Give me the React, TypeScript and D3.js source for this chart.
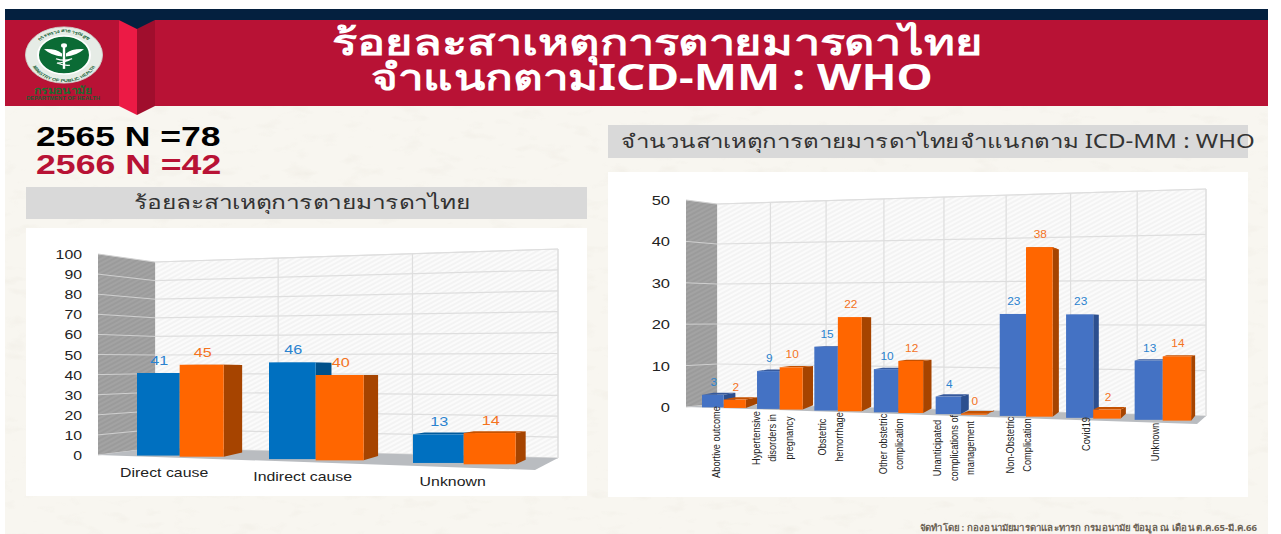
import React from 'react'
import * as d3 from 'd3'

// left chart: percent by cause group
const causeCats = ['Direct cause', 'Indirect cause', 'Unknown']
const causePct2565 = [41, 46, 13]
const causePct2566 = [45, 40, 14]
const pctTicks = [0, 10, 20, 30, 40, 50, 60, 70, 80, 90, 100]

// right chart: counts by ICD-MM group
const icdCats = [
  ['Abortive outcome'],
  ['Hypertensive', 'disorders in', 'pregnancy'],
  ['Obstetric', 'hemorrhage'],
  ['Other obstetric', 'complication'],
  ['Unanticipated', 'complications of', 'management'],
  ['Non-Obstetric', 'Complication'],
  ['Covid19'],
  ['Unknown'],
]
const icdCount2565 = [3, 9, 15, 10, 4, 23, 23, 13]
const icdCount2566 = [2, 10, 22, 12, 0, 38, 2, 14]
const countTicks = [0, 10, 20, 30, 40, 50]

const FONT = '"Liberation Sans", Arial, sans-serif'
const THAI = '"Noto Sans", "Liberation Sans", sans-serif'

type Cfg = {
  cats: string[][]
  a: number[]
  b: number[]
  ticks: number[]
  // perspective x: pow scale over shifted band index
  k: number
  x0: number
  x1: number
  barShare: number
  base: [number, number, number, number] // x0,y0,x1,y1 front floor line
  unit: [number, number]
  wall: { fx: number; bx: number; fy0: number; fyTop: number }
  back: { x: number; y0: number; u: number }[]
  floorFront: [number, number]
  depth: [number, number]
  blue: string
  blueDark: string
  blueTop: string
  tickFont: number
  tickRight: number
  hatch: string
  labelSize: number
  labelSx: number
  labelGap: number
}

function Stretch({ x, y, sx = 1, anchor = 'middle', size, fill, weight, family = FONT, children }: any) {
  return (
    <text transform={`translate(${x},${y}) scale(${sx},1)`} textAnchor={anchor} fontSize={size} fill={fill}
      fontWeight={weight} fontFamily={family}>{children}</text>
  )
}

function Chart3D({ cfg, renderCatLabel }: { cfg: Cfg; renderCatLabel: (i: number, xf: (t: number) => number, base: (x: number) => number) => React.ReactNode }) {
  const n = cfg.cats.length
  const x = d3.scalePow().exponent(2).domain([cfg.k, cfg.k + n]).range([cfg.x0, cfg.x1])
  const xf = (t: number) => x(cfg.k + t)
  const [bx0, by0, bx1, by1] = cfg.base
  const base = d3.scaleLinear().domain([bx0, bx1]).range([by0, by1])
  const unit = d3.scaleLinear().domain([bx0, bx1]).range(cfg.unit)
  const depth = d3.scaleLinear().domain([bx0, bx1]).range(cfg.depth)
  const [bl, br] = cfg.back
  const backX = d3.scaleLinear().domain([cfg.x0, cfg.x1]).range([bl.x, br.x])
  const backY = (v: number, px: number) => {
    const t = (px - bl.x) / (br.x - bl.x)
    return bl.y0 + t * (br.y0 - bl.y0) - v * (bl.u + t * (br.u - bl.u))
  }
  const vMax = cfg.ticks[cfg.ticks.length - 1]
  const wallY = d3.scaleLinear().domain([0, vMax]).range([cfg.wall.fy0, cfg.wall.fyTop])
  const eye = (bl.y0 + cfg.wall.fyTop) / 2 + 20

  const poly = (pts: number[][]) => pts.map(p => p.join(',')).join(' ')

  const bar = (i: number, s: number, v: number, fill: string, side: string, top: string) => {
    const xa = xf(i + s * cfg.barShare)
    const xb = xf(i + (s + 1) * cfg.barShare)
    const bot = base((xa + xb) / 2)
    const mx = (xa + xb) / 2
    const h = Math.max(v, 0.25) * unit(mx)
    const y = bot - h
    const d = depth(xb)
    const farTop = y + (eye - y) * 0.03
    const farBot = bot + (eye - bot) * 0.05
    return (
      <g key={`${i}-${s}`}>
        <polygon points={poly([[xb, y], [xb + d, farTop], [xb + d, farBot], [xb, bot]])} fill={side} />
        <polygon points={poly([[xa, y], [xa + d, farTop], [xb + d, farTop], [xb, y]])} fill={top} />
        <rect x={xa} y={y} width={xb - xa} height={h} fill={fill} />
      </g>
    )
  }
  const valueLabel = (i: number, s: number, v: number, fill: string) => {
    const xa = xf(i + s * cfg.barShare)
    const xb = xf(i + (s + 1) * cfg.barShare)
    const mx = (xa + xb) / 2
    const y = base(mx) - Math.max(v, 0.25) * unit(mx) - cfg.labelGap
    return <Stretch key={`l${i}-${s}`} x={mx + 1} y={y} sx={cfg.labelSx} size={cfg.labelSize} fill={fill}>{v}</Stretch>
  }

  const fr = cfg.floorFront
  return (
    <g>
      {/* back wall */}
      <polygon points={poly([[bl.x, backY(vMax, bl.x)], [br.x, backY(vMax, br.x)], [br.x, backY(0, br.x)], [bl.x, backY(0, bl.x)]])}
        fill={`url(#${cfg.hatch}Back)`} stroke="#e2e2e2" />
      {cfg.ticks.map(t => (
        <line key={t} x1={bl.x} x2={br.x} y1={backY(t, bl.x)} y2={backY(t, br.x)} stroke="#dedede" strokeWidth={1.2} />
      ))}
      {d3.range(1, n + 1).map(i => {
        const px = backX(xf(i))
        return <line key={i} x1={px} x2={px} y1={backY(vMax, px)} y2={backY(0, px)} stroke="#dedede" strokeWidth={1.2} />
      })}
      {/* side wall */}
      <polygon points={poly([[cfg.wall.fx, cfg.wall.fyTop], [bl.x, backY(vMax, bl.x)], [bl.x, backY(0, bl.x)], [cfg.wall.fx, cfg.wall.fy0]])}
        fill={`url(#${cfg.hatch}Wall)`} />
      {cfg.ticks.map(t => (
        <line key={t} x1={cfg.wall.fx} x2={bl.x} y1={wallY(t)} y2={backY(t, bl.x)} stroke="#d0d0d0" strokeWidth={1} />
      ))}
      {/* floor */}
      <polygon points={poly([[cfg.wall.fx, cfg.wall.fy0], [bl.x, backY(0, bl.x)], [br.x, backY(0, br.x)], fr])} fill="#b9bcc0" />

      {cfg.ticks.map(t => (
        <Stretch key={t} x={cfg.tickRight} y={wallY(t) + 5} sx={1.32} anchor="end" size={cfg.tickFont} fill="#222">{t}</Stretch>
      ))}

      {cfg.a.map((v, i) => bar(i, 0, v, cfg.blue, cfg.blueDark, cfg.blueTop))}
      {cfg.b.map((v, i) => bar(i, 1, v, '#ff6600', '#a64400', '#c45100'))}
      {cfg.a.map((v, i) => valueLabel(i, 0, v, '#2b83cf'))}
      {cfg.b.map((v, i) => valueLabel(i, 1, v, '#f4731e'))}
      {cfg.cats.map((_, i) => renderCatLabel(i, xf, base))}
    </g>
  )
}

const leftCfg: Cfg = {
  cats: causeCats.map(c => [c]),
  a: causePct2565,
  b: causePct2566,
  ticks: pctTicks,
  k: 10.5,
  x0: 137,
  x1: 569,
  barShare: 1 / 3,
  base: [137, 455, 516, 465],
  unit: [2.0, 2.25],
  wall: { fx: 98, bx: 155, fy0: 455, fyTop: 254 },
  back: [{ x: 155, y0: 448, u: 1.86 }, { x: 558, y0: 458, u: 2.09 }],
  floorFront: [535, 470],
  depth: [21, 10],
  blue: '#0070c0',
  blueDark: '#00508a',
  blueTop: '#005a9c',
  tickFont: 12,
  tickRight: 82,
  hatch: 'l',
  labelSize: 12,
  labelSx: 1.35,
  labelGap: 8,
}

const rightCfg: Cfg = {
  cats: icdCats,
  a: icdCount2565,
  b: icdCount2566,
  ticks: countTicks,
  k: 23.85,
  x0: 702,
  x1: 1205.5,
  barShare: 0.4,
  base: [702, 407, 1190, 421],
  unit: [4.14, 4.6],
  wall: { fx: 686, bx: 717, fy0: 407, fyTop: 200 },
  back: [{ x: 717, y0: 404, u: 4 }, { x: 1206, y0: 416, u: 4.54 }],
  floorFront: [1197, 424],
  depth: [12, 4],
  blue: '#4472c4',
  blueDark: '#2c4f8f',
  blueTop: '#36599c',
  tickFont: 12.5,
  tickRight: 670,
  hatch: 'l',
  labelSize: 11,
  labelSx: 1.08,
  labelGap: 9,
}

// vertical centre of each rotated category label
const icdLabelMid = [442, 438, 437, 444, 448, 445, 434, 442]

function Logo() {
  return (
    <g>
      <g transform="translate(64,55) scale(1,0.73) translate(-64,-55)">
        <circle cx={64} cy={55} r={38.5} fill="#e6ece6" stroke="#cfd8cf" />
        <circle cx={64} cy={55} r={26} fill="#0b6b35" stroke="#fff" strokeWidth={2} />
        <path id="ringTop" d="M 33 55 A 31 31 0 0 1 95 55" fill="none" />
        <path id="ringBot" d="M 30 58 A 34 34 0 0 0 98 58" fill="none" />
        <text fontSize={5.5} fontFamily={FONT} fontWeight={700} fill="#22663c">
          <textPath href="#ringBot" startOffset="50%" textAnchor="middle">MINISTRY OF PUBLIC HEALTH</textPath>
        </text>
        <text fontSize={6} fontFamily={THAI} fontWeight={700} fill="#22663c">
          <textPath href="#ringTop" startOffset="50%" textAnchor="middle">กระทรวงสาธารณสุข</textPath>
        </text>
        <path d="M44 47 Q56 46 62 53 L62 57 Q52 56 44 47 Z M84 47 Q72 46 66 53 L66 57 Q76 56 84 47 Z" fill="#fff" />
        <rect x={62.8} y={41} width={2.4} height={33} fill="#fff" />
        <circle cx={64} cy={42} r={3} fill="#fff" />
        <path d="M56 60 Q64 64 72 60 M72 60 Q64 66 57 66 M57 66 Q64 70 70 69" fill="none" stroke="#fff" strokeWidth={1.6} />
      </g>
      <Stretch x={63} y={94} sx={1.15} size={10.5} fill="#1d6a2f" weight={700} family={THAI}>กรมอนามัย</Stretch>
      <Stretch x={63} y={99.5} sx={1.2} size={4.8} fill="#1d5a2f" weight={700}>DEPARTMENT OF HEALTH</Stretch>
    </g>
  )
}

export default function App() {
  return (
    <svg width={1281} height={534} style={{ position: 'absolute', left: 0, top: 0, background: '#fff' }}>
      <defs>
        <pattern id="lBack" width={4} height={4} patternUnits="userSpaceOnUse" patternTransform="rotate(-28)">
          <rect width={4} height={4} fill="#fbfbfb" />
          <line x1={0} x2={4} y1={2} y2={2} stroke="#ececec" strokeWidth={1} />
        </pattern>
        <pattern id="lWall" width={4} height={4} patternUnits="userSpaceOnUse" patternTransform="rotate(-28)">
          <rect width={4} height={4} fill="#a3a3a3" />
          <line x1={0} x2={4} y1={2} y2={2} stroke="#939393" strokeWidth={1} />
        </pattern>
        <filter id="paper" x="0" y="0" width="100%" height="100%">
          <feTurbulence type="fractalNoise" baseFrequency="0.035 0.09" numOctaves={3} seed={4} />
          <feColorMatrix values="0 0 0 0 0.72  0 0 0 0 0.68  0 0 0 0 0.6  0 0 0 1.1 -0.62" />
        </filter>
      </defs>

      {/* page */}
      <rect x={5} y={9} width={1263} height={525} fill="#f8f6f0" />
      <rect x={5} y={106} width={1263} height={428} filter="url(#paper)" opacity={0.5} />

      {/* banner */}
      <rect x={5} y={9} width={1263} height={11} fill="#04203f" />
      <rect x={5} y={20} width={1263} height={86} fill="#b81235" />
      <polygon points="119,20 137,29 137,115 119,106" fill="#ec1a45" />
      <polygon points="137,29 155,20 155,106 137,115" fill="#a00e2d" />
      <polygon points="119,20 137,29 155,20" fill="#04203f" />
      <Logo />
      <Stretch x={658} y={55} sx={1.305} size={36} fill="#fff" weight={700} family={THAI}>ร้อยละสาเหตุการตายมารดาไทย</Stretch>
      <Stretch x={652} y={90} sx={1.275} size={36} fill="#fff" weight={700} family={THAI}>จำแนกตามICD-MM : WHO</Stretch>

      {/* N */}
      <Stretch x={36} y={146} sx={1.315} anchor="start" size={27} fill="#000" weight={700}>2565 N =78</Stretch>
      <Stretch x={36} y={174} sx={1.32} anchor="start" size={27} fill="#b81235" weight={700}>2566 N =42</Stretch>

      {/* left panel */}
      <rect x={26} y={187} width={561} height={32} fill="#d9d9d9" />
      <Stretch x={302} y={209} sx={1.29} size={19} fill="#333" family={THAI}>ร้อยละสาเหตุการตายมารดาไทย</Stretch>
      <rect x={26} y={228} width={561} height={268} fill="#fff" />
      <Chart3D cfg={leftCfg} renderCatLabel={(i, xf, base) => {
        const mx = xf(i + 1 / 3) - 13
        const shift = [-2.5, 0, 2][i]
        return <Stretch key={i} x={mx + shift} y={base(mx) + 21 + i} sx={1.22} size={13} fill="#222">{causeCats[i]}</Stretch>
      }} />

      {/* right panel */}
      <rect x={608} y={125} width={640} height={33} fill="#d9d9d9" />
      <Stretch x={938} y={148} sx={1.266} size={19} fill="#333" family={THAI}>จำนวนสาเหตุการตายมารดาไทยจำแนกตาม ICD-MM : WHO</Stretch>
      <rect x={608} y={172} width={640} height={325} fill="#fff" />
      <Chart3D cfg={rightCfg} renderCatLabel={(i, xf) => {
        const lines = icdCats[i]
        const cx = xf(i + 0.4) - 7
        return (
          <g key={i}>
            {lines.map((ln, j) => (
              <text key={j} transform={`translate(${cx + (j - (lines.length - 1) / 2) * 16.5 + 3.5},${icdLabelMid[i]}) rotate(-90) scale(0.88,1)`}
                textAnchor="middle" fontSize={10.5} fontFamily={FONT} fill="#222">{ln}</text>
            ))}
          </g>
        )
      }} />

      <Stretch x={1257} y={531} sx={1.07} anchor="end" size={9} fill="#6b6255" weight={700} family={THAI}>จัดทำโดย : กองอนามัยมารดาและทารก กรมอนามัย ข้อมูล ณ เดือน ต.ค.65-มี.ค.66</Stretch>
    </svg>
  )
}
